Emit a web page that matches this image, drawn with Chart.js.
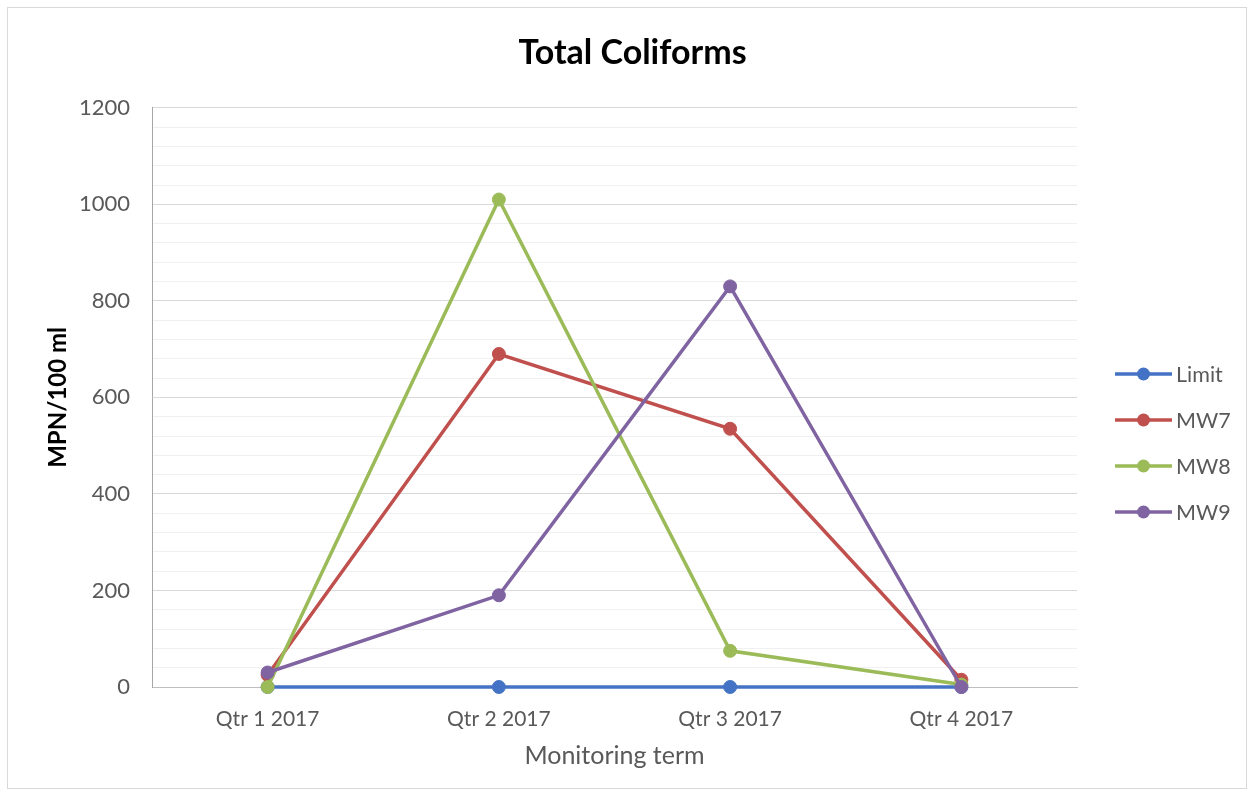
<!DOCTYPE html>
<html>
<head>
<meta charset="utf-8">
<title>Total Coliforms</title>
<script src="https://cdn.jsdelivr.net/npm/chart.js@4/dist/chart.umd.min.js"></script>
<style>
  html, body { margin: 0; padding: 0; background: #ffffff; }
  #frame {
    position: absolute; left: 7px; top: 7px;
    width: 1240px; height: 782px;
    border: 1px solid #d9d9d9;
    box-sizing: border-box;
  }
  #wrap { position: absolute; left: 0; top: 0; width: 1254px; height: 798px; }
</style>
</head>
<body>
<div id="frame"></div>
<div id="wrap"><canvas id="chart" width="1254" height="798"></canvas></div>
<script>
// Quarterly monitoring results, MPN per 100 ml
const quarters = ['Qtr 1 2017', 'Qtr 2 2017', 'Qtr 3 2017', 'Qtr 4 2017'];
const limitValues = [0, 0, 0, 0];
const mw7Values = [25, 690, 535, 15];
const mw8Values = [0, 1010, 75, 5];
const mw9Values = [30, 190, 830, 0];

const seriesNames = ['Limit', 'MW7', 'MW8', 'MW9'];
const seriesColors = ['#4472C4', '#C0504D', '#9BBB59', '#8064A2'];

const yMin = 0;
const yMax = 1200;
const yStep = 40;       // minor gridline spacing
const yLabelStep = 200; // labelled gridlines

const FONT = 'Lato, "Open Sans", "DejaVu Sans", sans-serif';
const TEXT = '#595959';

function series(i, values) {
  return {
    label: seriesNames[i],
    data: values,
    borderColor: seriesColors[i],
    backgroundColor: seriesColors[i],
    pointBackgroundColor: seriesColors[i],
    pointBorderColor: seriesColors[i],
    borderWidth: 3.5,
    pointRadius: 6.5,
    pointBorderWidth: 1,
    tension: 0,
    clip: false,
    order: seriesNames.length - i
  };
}

// Legend on the right: a short line with a marker, then the series name
const sideLegend = {
  id: 'sideLegend',
  afterDraw(chart) {
    const ctx = chart.ctx;
    const x0 = 1115, x1 = 1172, xm = 1143.5, xt = 1176;
    const yTop = 374, gap = 46;
    ctx.save();
    chart.data.datasets.forEach((ds, i) => {
      const y = yTop + i * gap;
      ctx.strokeStyle = ds.borderColor;
      ctx.lineWidth = 3.5;
      ctx.beginPath();
      ctx.moveTo(x0, y);
      ctx.lineTo(x1, y);
      ctx.stroke();
      ctx.fillStyle = ds.borderColor;
      ctx.beginPath();
      ctx.arc(xm, y, 6.5, 0, Math.PI * 2);
      ctx.fill();
      ctx.fillStyle = TEXT;
      ctx.font = '21.5px ' + FONT;
      ctx.textAlign = 'left';
      ctx.textBaseline = 'middle';
      ctx.fillText(ds.label, xt, y + 1);
    });
    ctx.restore();
  }
};

new Chart(document.getElementById('chart'), {
  type: 'line',
  data: {
    labels: quarters,
    datasets: [
      series(0, limitValues),
      series(1, mw7Values),
      series(2, mw8Values),
      series(3, mw9Values)
    ]
  },
  plugins: [sideLegend],
  options: {
    responsive: false,
    animation: false,
    layout: { padding: { left: 11, right: 0, top: 0, bottom: 0 } },
    plugins: {
      legend: { display: false },
      tooltip: { enabled: false },
      title: {
        display: true,
        text: 'Total Coliforms',
        color: '#000000',
        font: { family: FONT, size: 34, weight: 'bold', lineHeight: 1.2 },
        padding: { top: 33, bottom: 34 }
      }
    },
    scales: {
      x: {
        type: 'category',
        offset: true,
        grid: { display: false, drawTicks: false },
        border: { display: true, color: '#bfbfbf', width: 1 },
        ticks: {
          color: TEXT,
          padding: 20,
          maxRotation: 0,
          font: { family: FONT, size: 21 }
        },
        title: {
          display: true,
          text: 'Monitoring term',
          color: TEXT,
          font: { family: FONT, size: 25 },
          padding: { top: 0, bottom: 27 }
        },
        afterFit(scale) { scale.height = 111; }
      },
      y: {
        min: yMin,
        max: yMax,
        grid: {
          drawTicks: false,
          color: ctx => (ctx.tick && ctx.tick.value % yLabelStep === 0) ? '#d9d9d9' : '#f0f0f0',
          lineWidth: 1
        },
        border: { display: true, color: '#a6a6a6', width: 1 },
        ticks: {
          stepSize: yStep,
          autoSkip: false,
          color: TEXT,
          padding: 22,
          font: { family: FONT, size: 22 },
          callback: v => (v % yLabelStep === 0 ? String(v) : '')
        },
        title: {
          display: true,
          text: 'MPN/100 ml',
          color: '#000000',
          font: { family: FONT, size: 24, weight: 'bold' },
          padding: { top: 33, bottom: 0 }
        },
        afterFit(scale) { scale.width = 141; }
      },
      // empty band on the right that holds the legend
      legendSpace: {
        type: 'linear',
        position: 'right',
        min: 0,
        max: 1,
        grid: { display: false, drawTicks: false },
        border: { display: false },
        ticks: { display: false },
        afterFit(scale) { scale.width = 177; }
      }
    }
  }
});
</script>
</body>
</html>
